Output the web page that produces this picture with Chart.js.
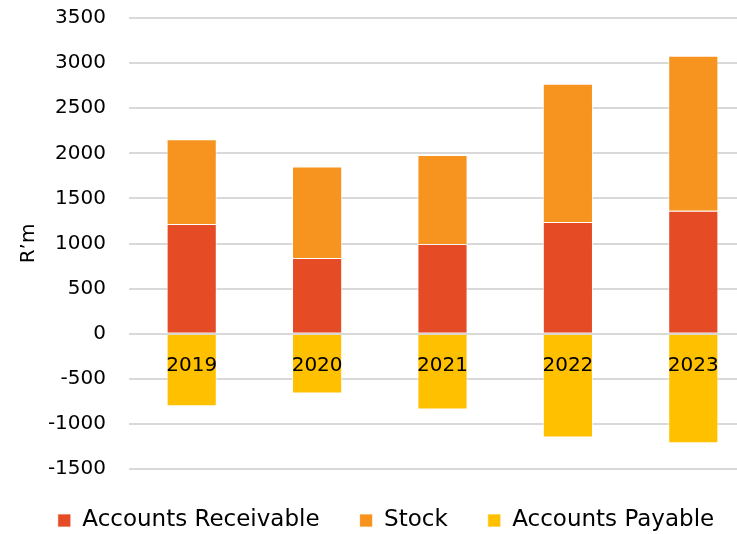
<!DOCTYPE html>
<html>
<head>
<meta charset="utf-8">
<script src="https://cdn.jsdelivr.net/npm/chart.js@4.4.0/dist/chart.umd.min.js"></script>
<style>
  html, body { margin: 0; padding: 0; background: #fff; overflow: hidden; }
  #wrap { width: 770px; height: 534px; }
</style>
</head>
<body>
<div id="wrap"><canvas id="chart" width="770" height="534"></canvas></div>
<script>
const years = ['2019', '2020', '2021', '2022', '2023'];
const receivable = [1215, 840, 995, 1237, 1363];
const stock = [940, 1015, 985, 1533, 1718];
const payable = [-804, -663, -841, -1152, -1215];
const yTicks = [-1500, -1000, -500, 0, 500, 1000, 1500, 2000, 2500, 3000, 3500];

const FONT = 'DejaVu Sans';

// legend: keep wide gaps between items but a fixed, short box height
const legendFix = {
    id: 'legendFix',
    beforeInit(chart) {
        const lg = chart.legend;
        if (!lg) return;
        const origFit = lg.fit;
        lg.fit = function () {
            origFit.call(this);
            this.height = 65;
        };
    },
    afterLayout(chart) {
        // nudge legend right a bit, like the original
        chart.legend.left += 8;
        chart.legend.right += 8;
    }
};

const ctx = document.getElementById('chart').getContext('2d');

new Chart(ctx, {
    type: 'bar',
    data: {
        labels: years,
        datasets: [
            { label: 'Accounts Receivable', data: receivable, backgroundColor: '#E54B24' },
            { label: 'Stock', data: stock, backgroundColor: '#F7941F' },
            { label: 'Accounts Payable', data: payable, backgroundColor: '#FFC000' }
        ]
    },
    plugins: [legendFix],
    options: {
        responsive: false,
        animation: false,
        maintainAspectRatio: false,
        layout: { padding: { left: 0, right: 14, top: 18, bottom: 0 } },
        datasets: {
            bar: {
                barPercentage: 0.4,
                categoryPercentage: 1,
                borderColor: 'rgba(255,255,255,0.7)',
                borderWidth: 1
            }
        },
        plugins: {
            legend: {
                position: 'bottom',
                labels: {
                    color: '#000',
                    font: { family: FONT, size: 23 },
                    boxWidth: 13,
                    boxHeight: 13,
                    padding: 40
                }
            },
            tooltip: { enabled: false }
        },
        scales: {
            x: {
                stacked: true,
                position: { y: 0 },
                grid: { display: false },
                border: { display: false },
                ticks: {
                    z: 1,
                    color: '#000',
                    font: { family: FONT, size: 20 },
                    padding: 12,
                    maxRotation: 0
                }
            },
            y: {
                stacked: true,
                min: -1500,
                max: 3500,
                afterBuildTicks: scale => {
                    scale.ticks = yTicks.map(v => ({ value: v }));
                },
                afterFit: scale => {
                    scale.width = 129;
                    scale.paddingTop = 0;
                    scale.paddingBottom = 0;
                },
                grid: { color: '#d9d9d9', lineWidth: 2, drawTicks: false },
                border: { display: false },
                ticks: {
                    color: '#000',
                    font: { family: FONT, size: 20 },
                    padding: 23,
                    callback: v => String(v)
                },
                title: {
                    display: true,
                    text: 'R’m',
                    color: '#000',
                    font: { family: FONT, size: 20 },
                    padding: { top: 17, bottom: 0 }
                }
            }
        }
    }
});
</script>
</body>
</html>
